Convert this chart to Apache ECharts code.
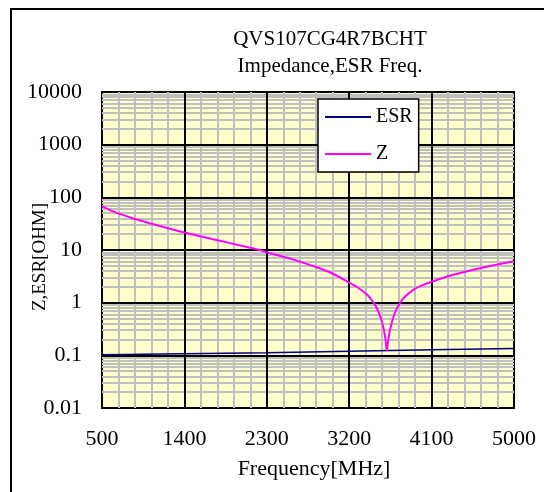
<!DOCTYPE html>
<html>
<head>
<meta charset="utf-8">
<script src="https://cdn.jsdelivr.net/npm/echarts@6/dist/echarts.min.js"></script>
<style>html,body{margin:0;padding:0;background:#fff;}#c{width:544px;height:492px;}</style>
</head>
<body>
<div id="c"></div>
<script>
// ---- data ----
var titleLines = ['QVS107CG4R7BCHT', 'Impedance,ESR Freq.'];
var xStart = 500, xEnd = 5000, xStep = 900;
var yDecades = [0.01, 0.1, 1, 10, 100, 1000, 10000];
var zFreq = [500, 600, 700, 800, 900, 1000, 1200, 1400, 1600, 1800, 2000, 2200, 2300, 2400, 2600, 2800, 3000, 3200, 3300, 3400, 3450, 3500, 3550, 3580, 3600, 3610, 3620, 3640, 3670, 3700, 3750, 3800, 3900, 4000, 4100, 4300, 4500, 4700, 5000];
var zOhm  = [68, 56, 48, 42, 37, 33, 26.5, 21.5, 17.8, 14.8, 12.3, 10.2, 9.0, 8.1, 6.5, 5.0, 3.7, 2.4, 1.9, 1.4, 1.1, 0.8, 0.48, 0.3, 0.18, 0.125, 0.16, 0.27, 0.45, 0.65, 0.95, 1.25, 1.75, 2.15, 2.5, 3.25, 4.0, 4.8, 6.1];
var esrFreq = [500, 1400, 2300, 3200, 4100, 5000];
var esrOhm  = [0.103, 0.107, 0.112, 0.119, 0.127, 0.135];

function pairs(fs, vs) { return fs.map(function (f, i) { return [f - xStart, vs[i]]; }); }

var gray = '#C0C0C0';
var gridLines = [];
for (var d = 0; d < yDecades.length - 1; d++) {
  for (var k = 2; k <= 9; k++) {
    gridLines.push({ yAxis: yDecades[d] * k, lineStyle: { color: gray, width: 2, type: 'solid' } });
  }
}
for (var x = xStart + xStep; x < xEnd; x += xStep) {
  gridLines.push({ xAxis: x - xStart, lineStyle: { color: '#000', width: 2, type: 'solid' } });
}
for (var d2 = 1; d2 < yDecades.length - 1; d2++) {
  gridLines.push({ yAxis: yDecades[d2], lineStyle: { color: '#000', width: 2, type: 'solid' } });
}

var font = 'Liberation Serif';
var chart = echarts.init(document.getElementById('c'), null, { renderer: 'canvas' });
chart.setOption({
  animation: false,
  backgroundColor: '#fff',
  graphic: [{ type: 'rect', z: 100, shape: { x: 11, y: 9, width: 540, height: 500 }, style: { fill: 'none', stroke: '#000', lineWidth: 2 }, silent: true }],
  title: {
    text: titleLines.join('\n'),
    left: 325, top: 21, textAlign: 'center',
    textStyle: { fontFamily: font, fontSize: 21, fontWeight: 'normal', color: '#000', lineHeight: 27 }
  },
  grid: { left: 102, top: 92, width: 412, height: 316, show: true, backgroundColor: '#FFFFCC', borderColor: '#000', borderWidth: 2 },
  legend: {
    data: ['ESR', 'Z'], orient: 'vertical', left: 318, top: 99, z: 20,
    padding: [8, 6, 8, 7], itemGap: 17,
    icon: 'rect', itemWidth: 46, itemHeight: 2,
    backgroundColor: '#fff', borderColor: '#000', borderWidth: 1.5,
    textStyle: { fontFamily: font, fontSize: 20, color: '#000' }
  },
  xAxis: {
    type: 'value', min: 0, max: xEnd - xStart, interval: xStep,
    name: 'Frequency[MHz]', nameLocation: 'middle', nameGap: 50, nameMoveOverlap: false,
    nameTextStyle: { fontFamily: font, fontSize: 22, color: '#000', padding: [0, 0, 0, 12] },
    axisLine: { show: false }, axisTick: { show: false },
    axisLabel: { margin: 20, fontFamily: font, fontSize: 22, color: '#000', formatter: function (v) { return String(v + xStart); } },
    splitLine: { show: false },
    minorTick: { show: false, splitNumber: 5 },
    minorSplitLine: { show: true, lineStyle: { color: gray, width: 2 } }
  },
  yAxis: {
    type: 'log', logBase: 10, min: yDecades[0], max: yDecades[yDecades.length - 1],
    name: 'Z,ESR[OHM]', nameLocation: 'middle', nameGap: 52, nameRotate: 90, nameMoveOverlap: false,
    nameTextStyle: { fontFamily: font, fontSize: 19, color: '#000', padding: [0, 14, 0, 0] },
    axisLine: { show: false }, axisTick: { show: false },
    axisLabel: { margin: 20, fontFamily: font, fontSize: 22, color: '#000', formatter: function (v) { return String(+v.toPrecision(6)); } },
    splitLine: { show: false }
  },
  series: [
    { type: 'line', name: 'grid', data: [], z: 1, silent: true,
      markLine: { silent: true, z: 1, symbol: ['none', 'none'], label: { show: false }, animation: false, data: gridLines } },
    { type: 'line', name: 'ESR', data: pairs(esrFreq, esrOhm), z: 10, showSymbol: false, symbol: 'none', smooth: true,
      lineStyle: { color: '#000080', width: 1.5 }, itemStyle: { color: '#000080' } },
    { type: 'line', name: 'Z', data: pairs(zFreq, zOhm), z: 11, showSymbol: false, symbol: 'none', smooth: 0.3,
      lineStyle: { color: '#FF00FF', width: 2 }, itemStyle: { color: '#FF00FF' } }
  ]
});
</script>
</body>
</html>
